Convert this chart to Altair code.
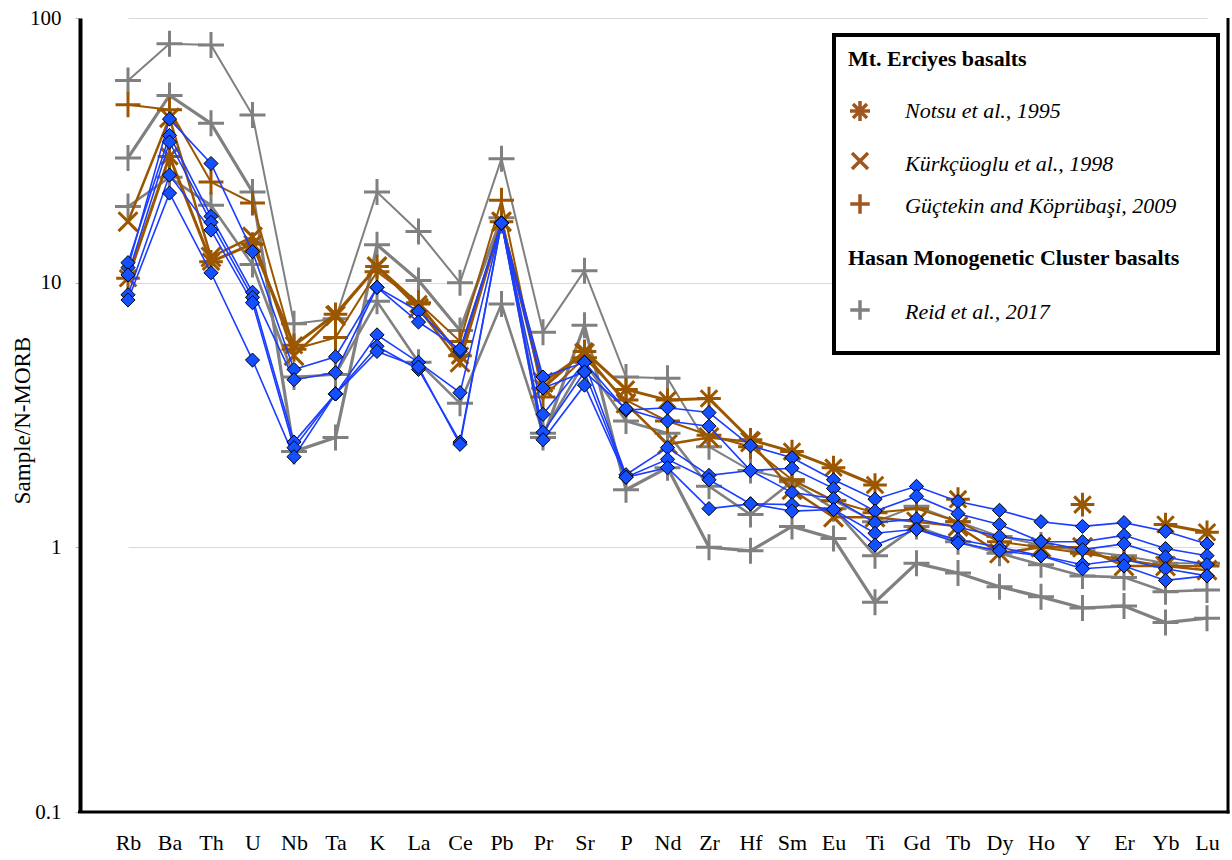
import altair as alt
import pandas as pd
import numpy as np

elements = ["Rb","Ba","Th","U","Nb","Ta","K","La","Ce","Pb","Pr","Sr","P","Nd","Zr",
            "Hf","Sm","Eu","Ti","Gd","Tb","Dy","Ho","Y","Er","Yb","Lu"]
N = None
# This study (blue diamonds)
blue_1 = [11.4,41.5,28.2,13.1,4.7,5.25,9.6,7.8,5.5,16.8,4.4,5.0,3.3,3.37,3.23,2.42,2.18,1.8,1.52,1.7,1.49,1.38,1.25,1.2,1.24,1.15,1.03]
blue_2 = [11.9,36,17.8,9.2,4.3,4.57,9.6,7.1,5.6,16.8,4.0,4.6,3.34,3.0,2.87,1.95,1.99,1.67,1.37,1.56,1.34,1.22,1.05,1.05,1.11,0.99,0.93]
blue_3 = [10.7,34,16.9,8.8,2.5,3.8,6.35,5.0,3.84,16.8,3.18,5.0,1.88,2.38,1.87,1.95,1.61,1.53,1.24,1.28,1.19,1.1,1.05,0.98,1.03,0.92,0.86]
blue_4 = [9.0,25.5,15.8,8.4,2.38,3.8,5.75,4.7,2.5,16.8,2.72,4.6,1.84,2.15,1.8,1.46,1.45,1.39,1.13,1.17,1.07,1.0,0.93,0.86,0.9,0.83,0.78]
blue_5 = [8.6,21.8,10.9,5.1,2.2,3.8,5.5,4.8,2.45,16.8,2.55,4.1,1.84,2.0,1.4,1.46,1.37,1.39,1.02,1.17,1.04,0.97,0.93,0.83,0.85,0.75,0.78]
# Mt. Erciyes basalts (brown)
notsu_1 = [10.4,30,12,14,5.8,7.6,11.5,8.3,5.3,17,4.0,5.5,3.95,3.6,3.65,2.55,2.3,2.0,1.72,N,1.52,N,N,1.45,N,1.22,1.14]
kurkcuoglu_1 = [17,42,12.5,14.9,5.3,7.5,11.5,8.0,5.0,17,4.2,5.4,3.5,2.45,2.6,2.5,1.65,1.3,1.3,1.25,1.2,0.95,1.0,1.0,0.85,0.85,0.82]
guctekin_1 = [47,45,24,20,5.6,6.2,11,8.4,6.0,20.5,3.7,5.2,3.6,3.0,2.65,2.4,1.8,1.5,1.35,1.4,1.25,1.05,1.0,0.95,0.9,0.85,0.85]
# Hasan Monogenetic Cluster basalts (grey)
reid_1 = [58,80,79,43,7.0,7.3,22,15.6,10,29.4,6.5,11.1,4.4,4.35,2.4,1.95,1.8,1.5,1.25,1.43,1.25,1.1,1.02,0.97,0.93,0.87,0.87]
reid_2 = [29.6,51,40,22,2.3,2.6,13.9,10.2,6.6,17.6,2.6,6.9,1.65,2.0,1.0,0.97,1.2,1.08,0.62,0.87,0.8,0.71,0.65,0.59,0.6,0.52,0.54]
reid_3 = [19.4,25,19.6,11.7,4.4,4.5,8.5,5.0,3.5,8.3,2.7,5.0,3.0,2.7,1.7,1.33,1.77,1.4,0.93,1.2,1.05,0.95,0.86,0.78,0.77,0.68,0.69]

y_ticks = [0.1, 1, 10, 100]

def long(name, vals):
    return pd.DataFrame({"series": name, "element": elements, "idx": range(len(elements)),
                         "value": [np.nan if v is None else v for v in vals]})

W, H = 1148, 794
FONT = "Times New Roman"
xs = alt.Scale(type="point", domain=elements, range=[48, 1127], padding=0)
ys = alt.Scale(type="log", domain=[0.1, 100], nice=False)

BLUE_L = "#1a3dff"
BLUE_F = "#1450ff"
BROWN = "#9b5700"
GREY = "#808080"

PLUS = "M-1,0L1,0M0,-1L0,1"
XSH = "M-0.8,-0.8L0.8,0.8M-0.8,0.8L0.8,-0.8"
AST = "M-1,0L1,0M0,-1L0,1M-0.7,-0.7L0.7,0.7M-0.7,0.7L0.7,-0.7"

xenc = alt.X("element:N", scale=xs, sort=elements,
             axis=alt.Axis(title=None, labelFont=FONT, labelFontSize=22,
                           labelColor="black", labelAngle=0, ticks=False, domain=False,
                           labelPadding=20, grid=False))
yenc = alt.Y("value:Q", scale=ys,
             axis=alt.Axis(title="Sample/N-MORB", titleFont=FONT, titleFontSize=23,
                           titleFontWeight="normal", titleColor="black",
                           titleX=-58, titleY=402, titleBaseline="middle", titleAngle=270,
                           values=y_ticks, labelExpr="toString(datum.value)",
                           labelFont=FONT, labelFontSize=21, labelColor="black",
                           domainColor="black", domainWidth=4, tickColor="#bbbbbb", tickSize=5,
                           labelPadding=14, grid=True, gridColor="#d9d9d9", gridWidth=1))

def series_layer(df, color, width, shape, size, sw=2.5):
    base = alt.Chart(df)
    line = base.mark_line(color=color, strokeWidth=width).encode(
        x=xenc, y=yenc, order="idx:Q")
    pts = base.mark_point(shape=shape, size=size, filled=False, color=color,
                          strokeWidth=sw, opacity=1).encode(
        x=alt.X("element:N", scale=xs, sort=elements),
        y=alt.Y("value:Q", scale=ys))
    return [line, pts]

layers = []
for nm, vals, w in [("reid_2", reid_2, 3.2), ("reid_3", reid_3, 2.6), ("reid_1", reid_1, 2.0)]:
    layers += series_layer(long(nm, vals), GREY, w, PLUS, 676, sw=3)
layers += series_layer(long("guctekin_1", guctekin_1), BROWN, 2.0, PLUS, 620, sw=3)
layers += series_layer(long("kurkcuoglu_1", kurkcuoglu_1), BROWN, 2.5, XSH, 560, sw=3)
layers += series_layer(long("notsu_1", notsu_1), BROWN, 3.0, AST, 560, sw=3)
blues = [("blue_1", blue_1), ("blue_2", blue_2), ("blue_3", blue_3), ("blue_4", blue_4), ("blue_5", blue_5)]
for nm, vals in blues:
    layers.append(alt.Chart(long(nm, vals)).mark_line(color=BLUE_L, strokeWidth=1.6).encode(
        x=alt.X("element:N", scale=xs, sort=elements), y=alt.Y("value:Q", scale=ys), order="idx:Q"))
for nm, vals in blues:
    layers.append(alt.Chart(long(nm, vals)).mark_point(shape="diamond", size=200, filled=True, fill=BLUE_F,
                                                       stroke="black", strokeWidth=1, opacity=1).encode(
        x=alt.X("element:N", scale=xs, sort=elements), y=alt.Y("value:Q", scale=ys)))

# frame: right and bottom
frame_df = pd.DataFrame({"k": [0]})
right = alt.Chart(frame_df).mark_rule(color="black", strokeWidth=3).encode(
    x=alt.value(W), y=alt.value(0), y2=alt.value(H + 1.5))
bottom = alt.Chart(frame_df).mark_rule(color="black", strokeWidth=3).encode(
    x=alt.value(-2), x2=alt.value(W + 1.5), y=alt.value(H))

# legend box
box = alt.Chart(frame_df).mark_rect(fill="white", stroke="black", strokeWidth=4).encode(
    x=alt.value(754), x2=alt.value(1138), y=alt.value(17), y2=alt.value(335))

leg_headers = pd.DataFrame({"t": ["Mt. Erciyes basalts", "Hasan Monogenetic Cluster basalts"],
                            "py": [41, 240]})
leg_items = pd.DataFrame({"t": ["Notsu et al., 1995", "Kürkçüoglu et al., 1998",
                                "Güçtekin and Köprübaşi, 2009", "Reid et al., 2017"],
                          "py": [93, 146, 188, 294]})
hdr = alt.Chart(leg_headers).mark_text(align="left", baseline="middle", font=FONT,
                                       fontSize=22, fontWeight="bold", color="black").encode(
    x=alt.value(768), y=alt.Y("py:Q", scale=None), text="t:N")
itm = alt.Chart(leg_items).mark_text(align="left", baseline="middle", font=FONT,
                                     fontSize=22, fontStyle="italic", color="black").encode(
    x=alt.value(825), y=alt.Y("py:Q", scale=None), text="t:N")

sym_layers = []
for py, shp, col, sz in [(93, AST, "#a0561f", 400), (143, XSH, "#a0561f", 400), (186, PLUS, "#a0561f", 380), (292, PLUS, GREY, 380)]:
    sym_layers.append(alt.Chart(pd.DataFrame({"py": [py]})).mark_point(
        shape=shp, size=sz, filled=False, color=col, strokeWidth=3.5, opacity=1).encode(
        x=alt.value(780), y=alt.Y("py:Q", scale=None)))

chart = alt.layer(*layers, right, bottom, box, hdr, itm, *sym_layers).properties(
    width=W, height=H,
    autosize=alt.AutoSizeParams(type="none"),
    padding={"left": 80, "top": 18, "right": 4, "bottom": 48},
    background="white"
).configure_view(stroke=None)

chart.save("out.html", embed_options={"renderer": "svg", "actions": False})
